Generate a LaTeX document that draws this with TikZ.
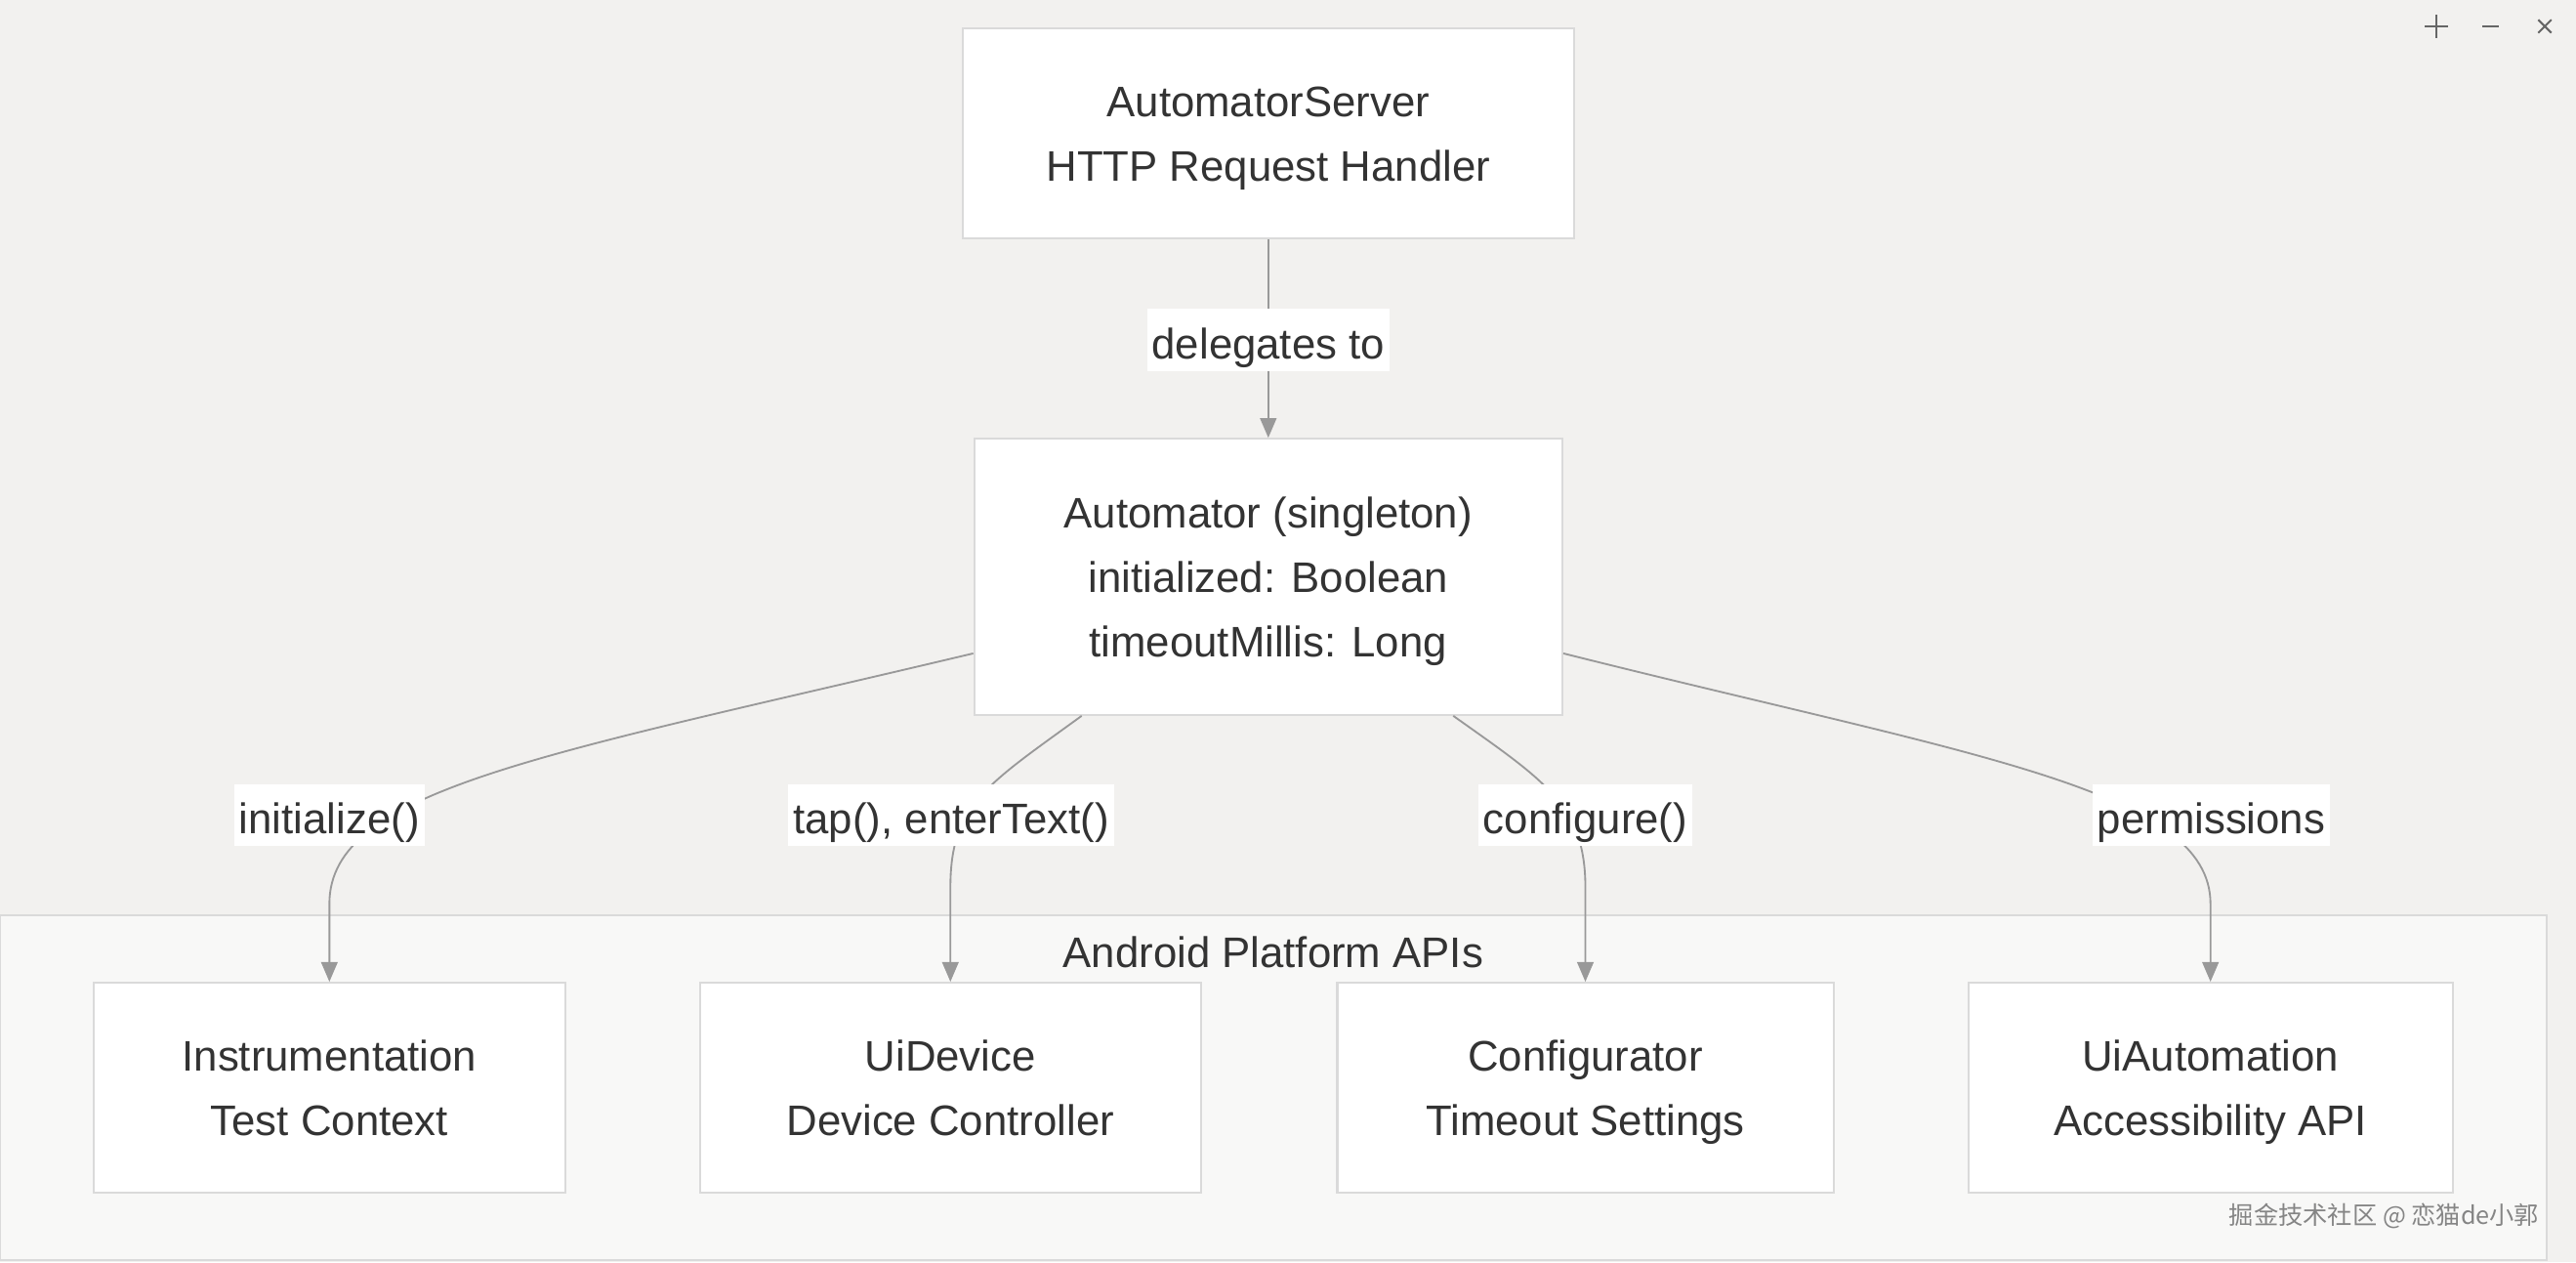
\documentclass[tikz,border=0pt]{standalone}
\usepackage{fontspec}
\setmainfont{Liberation Sans}
\newfontfamily\cjkfont{Noto Sans CJK SC}
\usetikzlibrary{arrows.meta,calc}
\definecolor{bg}{HTML}{F2F1EF}
\definecolor{clfill}{HTML}{F8F8F7}
\definecolor{bord}{HTML}{DADADA}
\definecolor{edgec}{HTML}{999999}
\definecolor{txt}{HTML}{333333}
\definecolor{icon}{HTML}{666666}
\definecolor{wm}{HTML}{858585}
\newcommand{\mystrut}{\rule[-7pt]{0pt}{33pt}}
\newcommand{\lblstrut}{\rule[-5pt]{0pt}{33pt}}
\begin{document}
\begin{tikzpicture}[x=1pt,y=-1pt,
  every node/.style={text=txt, font=\fontsize{26}{39.5}\selectfont},
  box/.style={draw=bord, line width=1.2pt, fill=white, align=center, inner sep=0pt, minimum height=128pt},
  cluster/.style={draw=bord, line width=1.2pt, fill=clfill, inner sep=0pt},
  elabel/.style={fill=white, inner xsep=3pt, inner ysep=0pt, minimum height=38pt},
  conn/.style={draw=edgec, line width=1.1pt, -{Triangle[length=12pt,width=10pt]}}
]
\useasboundingbox (0,0) rectangle (1568,768);
\fill[bg] (0,0) rectangle (1568,768);

% window icons
\draw[icon, line width=1.2pt] (1476,16) -- (1490,16) (1483,9) -- (1483,23);
\draw[icon, line width=1.2pt] (1511,16) -- (1521,16);
\draw[icon, line width=1.2pt] (1545,12) -- (1553,20) (1545,20) -- (1553,12);

% cluster
\node[cluster, minimum width=1550pt, minimum height=210pt] (cl) at (775,662) {};
\node (cllabel) at (775,577) {\lblstrut Android Platform APIs};

% main nodes
\node[box, minimum width=372pt] (srv) at (772,81) {\mystrut AutomatorServer\\HTTP Request Handler\mystrut};
\node[box, minimum width=358pt, minimum height=168pt] (aut) at (772,351) {\mystrut Automator (singleton)\\initialized: Boolean\\timeoutMillis: Long\mystrut};

\node[box, minimum width=287pt] (ins) at (200.5,662) {\mystrut Instrumentation\\Test Context\mystrut};
\node[box, minimum width=305pt] (uid) at (578.5,662) {\mystrut UiDevice\\Device Controller\mystrut};
\node[box, minimum width=302pt] (cfg) at (965,662) {\mystrut Configurator\\Timeout Settings\mystrut};
\node[box, minimum width=295pt] (uia) at (1345.5,662) {\mystrut UiAutomation\\Accessibility API\mystrut};

% connectors
\draw[conn] (srv.south) -- (aut.north);
\draw[conn] ([yshift=38pt]aut.south west) .. controls (330,460) and (200.5,480) .. (200.5,550) -- (ins.north);
\draw[conn] ([xshift=66pt]aut.south west) .. controls (600,478) and (578.5,490) .. (578.5,540) -- (uid.north);
\draw[conn] ([xshift=-67pt]aut.south east) .. controls (940,475) and (965,490) .. (965,540) -- (cfg.north);
\draw[conn] ([yshift=38pt]aut.south east) .. controls (1200,460) and (1345.5,480) .. (1345.5,550) -- (uia.north);

% edge labels
\node[elabel] (l0) at (772,207) {\lblstrut delegates to};
\node[elabel] (l1) at (200.5,496) {\lblstrut initialize()};
\node[elabel] (l2) at (579,496) {\lblstrut tap(), enterText()};
\node[elabel] (l3) at (965,496) {\lblstrut configure()};
\node[elabel] (l4) at (1346,496) {\lblstrut permissions};

% watermark
\node[anchor=east, text=wm, font=\cjkfont\fontsize{15}{18}\selectfont] (wmk) at (1549,740) {掘金技术社区 @ 恋猫de小郭};
\end{tikzpicture}
\end{document}
